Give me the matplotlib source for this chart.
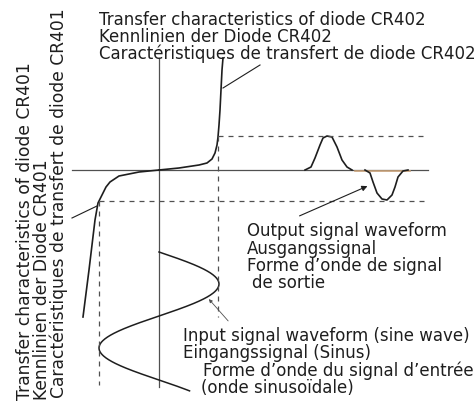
import numpy as np
import matplotlib.pyplot as plt

# diode transfer curves, (input, output)
cr402_in = [0, 20, 40, 48, 53, 56, 58, 59, 60, 61, 62, 63, 64]
cr402_out = [0, 2, 5, 7, 11, 17, 25, 33, 45, 60, 80, 100, 112]
cr401_in = [0, -20, -40, -49, -53, -56, -61, -64, -70, -76]
cr401_out = [0, -2, -6, -12, -17, -23, -33, -50, -100, -147]

# input sine (drawn downwards along the vertical axis)
sine_amp = 60
sine_start = -82      # first zero crossing
sine_half = 64        # half period
sine_turns = 2.17     # in units of pi

# output pulses along the time axis
pos_t = [146, 152, 156, 161, 164, 168, 173, 178, 183, 188, 193]
pos_v = [0, 3, 12, 25, 32, 34, 33, 23, 10, 3, 0]
neg_t = [206, 211, 214, 218, 223, 228, 233, 236, 239, 244, 249]
neg_v = [0, -3, -12, -23, -29, -30, -25, -17, -7, -1, 0]

ink = '#1e1e1e'
grey = '#505050'

fig = plt.figure(figsize=(4.75, 4.04), dpi=100)
ax = fig.add_axes([0, 0, 1, 1])
ax.set_xlim(-159, 316)
ax.set_ylim(-234, 170)
ax.axis('off')

# axes of the diagram
ax.plot([-87, 269], [0, 0], color=grey, lw=0.9)
ax.plot([196, 251], [-1, -1], color='#c9a27a', lw=1.2)
ax.plot([0, 0], [112, -217], color=grey, lw=0.9)

# transfer characteristics
ax.plot(cr402_in, cr402_out, color=ink, lw=1.2)
ax.plot(cr401_in, cr401_out, color=ink, lw=1.2)

# input waveform
t = np.linspace(0, sine_turns * np.pi, 300)
ax.plot(sine_amp * np.sin(t), sine_start - sine_half * t / np.pi, color=ink, lw=1.1)

# output waveform
ax.plot(pos_t, pos_v, color=ink, lw=1.2)
ax.plot(neg_t, neg_v, color=ink, lw=1.2)

# projection lines
hi = np.interp(sine_amp - 1, cr402_in, cr402_out)
lo = -np.interp(sine_amp, [-v for v in cr401_in], [-v for v in cr401_out])
dash = dict(color=grey, lw=0.9, ls=(0, (4, 4)))
ax.plot([59, 266], [hi + 1, hi + 1], **dash)
ax.plot([-60, 266], [lo, lo], **dash)
ax.plot([59, 59], [hi + 1, -147], **dash)
ax.plot([-60, -60], [lo, -215], **dash)

# leaders
ax.plot([64, 101], [82, 105], color=ink, lw=0.8)
ax.plot([-87, -62], [-48, -36], color=ink, lw=0.8)
ax.annotate('', xy=(211, -15), xytext=(138, -47),
            arrowprops=dict(arrowstyle='-|>', color=ink, lw=0.8, mutation_scale=8))
ax.annotate('', xy=(48, -127), xytext=(71, -153),
            arrowprops=dict(arrowstyle='-|>', color=grey, lw=0.6, mutation_scale=5))

fs = 12
txt = dict(color=ink, fontsize=fs, va='baseline', ha='left')
ax.text(-60, 145, 'Transfer characteristics of diode CR402', **txt)
ax.text(-60, 128, 'Kennlinien der Diode CR402', **txt)
ax.text(-60, 111, 'Caractéristiques de transfert de diode CR402', **txt)

ax.text(88, -66, 'Output signal waveform', **txt)
ax.text(88, -84, 'Ausgangssignal', **txt)
ax.text(88, -101, 'Forme d\u2019onde de signal', **txt)
ax.text(93, -118, 'de sortie', **txt)

ax.text(24, -171, 'Input signal waveform (sine wave)', **txt)
ax.text(24, -188, 'Eingangssignal (Sinus)', **txt)
ax.text(44, -206, 'Forme d\u2019onde du signal d\u2019entrée', **txt)
ax.text(42, -223, '(onde sinusoïdale)', **txt)

rot = dict(color=ink, fontsize=12.3, rotation=90, rotation_mode='anchor',
           ha='left', va='baseline')
ax.text(-129, -230, 'Transfer characteristics of diode CR401', **rot)
ax.text(-112, -230, 'Kennlinien der Diode CR401', **rot)
ax.text(-95, -228, 'Caractéristiques de transfert de diode CR401', **rot)

fig.savefig('out.png', dpi=100, facecolor='white')
